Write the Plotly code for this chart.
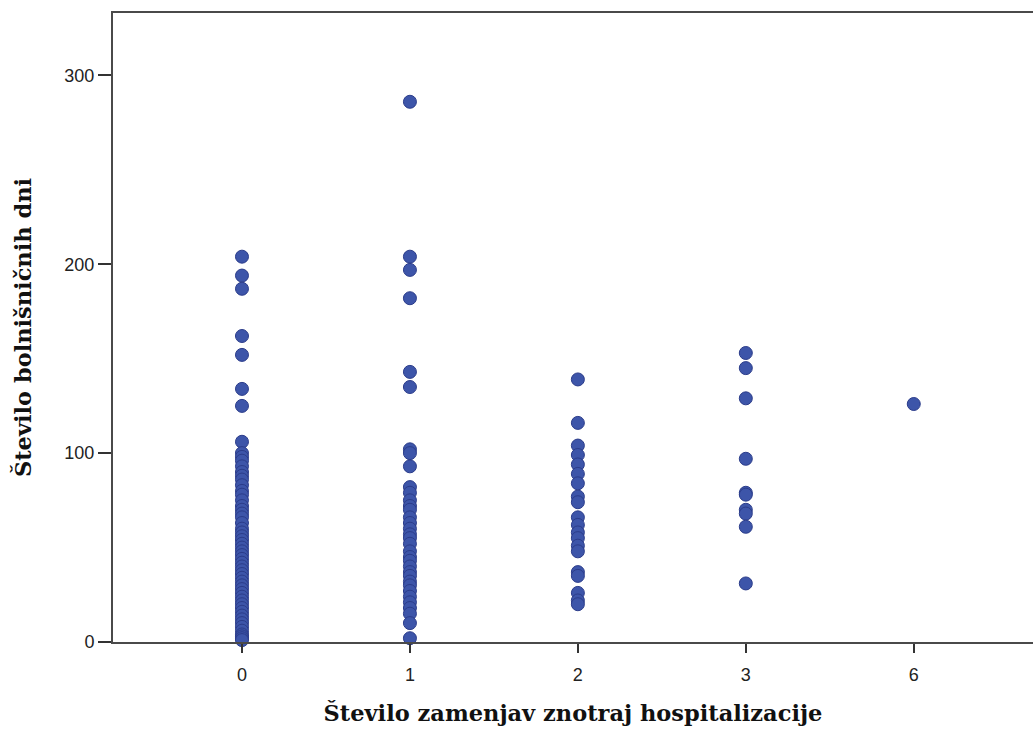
import plotly.graph_objects as go

categories = ["0", "1", "2", "3", "6"]

days_0 = [204, 194, 187, 162, 152, 134, 125, 106, 100, 98, 96, 93, 90, 88, 86, 83, 80,
          78, 75, 72, 70, 68, 66, 63, 60, 58, 56, 54, 52, 50, 48, 46, 44, 42, 40, 38,
          36, 34, 32, 30, 28, 26, 24, 22, 20, 18, 16, 14, 12, 10, 8, 6, 4, 3, 2, 1]
days_1 = [286, 204, 197, 182, 143, 135, 102, 100, 93, 82, 79, 75, 72, 70, 66, 63, 60,
          57, 55, 52, 48, 45, 43, 40, 37, 35, 32, 30, 27, 24, 21, 18, 15, 10, 2]
days_2 = [139, 116, 104, 99, 94, 89, 84, 77, 74, 66, 62, 58, 55, 51, 48, 37, 35, 26, 22, 20]
days_3 = [153, 145, 129, 97, 79, 78, 70, 68, 61, 31]
days_6 = [126]

groups = [days_0, days_1, days_2, days_3, days_6]

xs, ys = [], []
for cat, vals in zip(categories, groups):
    xs += [cat] * len(vals)
    ys += vals

fig = go.Figure(go.Scatter(
    x=xs, y=ys, mode="markers",
    marker=dict(size=13, color="#3d55a9", line=dict(color="#2b3c8a", width=1)),
    cliponaxis=False,
    showlegend=False,
))

axis_font = dict(family="DejaVu Serif", size=22.5, color="#111111")
tick_font = dict(family="Liberation Sans", size=18, color="#222222")
fig.update_layout(
    width=1033, height=731,
    margin=dict(l=113, r=0, t=13, b=89),
    paper_bgcolor="white", plot_bgcolor="white",
    xaxis=dict(
        type="category", categoryorder="array", categoryarray=categories,
        range=[-0.768, 4.71],
        showgrid=False, zeroline=False,
        showline=True, linecolor="#4a4a4a", linewidth=2, mirror=True,
        ticks="outside", ticklen=9, tickwidth=2, tickcolor="#333333",
        ticklabelstandoff=6,
        tickfont=tick_font,
        title=dict(text="<b>Število zamenjav znotraj hospitalizacije</b>", font=axis_font, standoff=22),
    ),
    yaxis=dict(
        range=[0, 333], tickvals=[0, 100, 200, 300],
        showgrid=False, zeroline=False,
        showline=True, linecolor="#4a4a4a", linewidth=2,
        ticks="outside", ticklen=13, tickwidth=2, tickcolor="#333333",
        tickfont=tick_font,
        title=dict(text="<b>Število bolnišničnih dni</b>", font=axis_font, standoff=26),
    ),
)

fig.write_html("out.html", config={"displayModeBar": False},
               post_script="document.body.style.margin='0';")
